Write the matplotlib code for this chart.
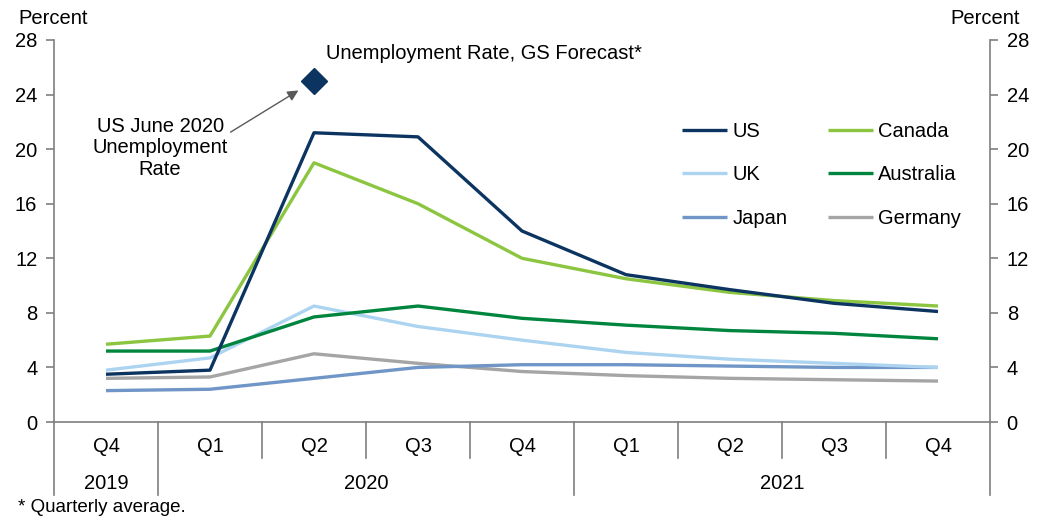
import numpy as np
import matplotlib
matplotlib.use("Agg")
import matplotlib.pyplot as plt
import matplotlib.transforms as mtransforms

plt.rcParams["font.family"] = ["Liberation Sans", "DejaVu Sans"]
plt.rcParams["font.size"] = 14.5

quarters = ["Q4", "Q1", "Q2", "Q3", "Q4", "Q1", "Q2", "Q3", "Q4"]
years = ["2019", "2020", "2021"]
year_spans = [(0, 0), (1, 4), (5, 8)]

us = [3.5, 3.8, 21.2, 20.9, 14.0, 10.8, 9.7, 8.7, 8.1]
canada = [5.7, 6.3, 19.0, 16.0, 12.0, 10.5, 9.5, 8.9, 8.5]
uk = [3.8, 4.7, 8.5, 7.0, 6.0, 5.1, 4.6, 4.3, 4.0]
australia = [5.2, 5.2, 7.7, 8.5, 7.6, 7.1, 6.7, 6.5, 6.1]
japan = [2.3, 2.4, 3.2, 4.0, 4.2, 4.2, 4.1, 4.0, 4.0]
germany = [3.2, 3.3, 5.0, 4.3, 3.7, 3.4, 3.2, 3.1, 3.0]

us_june_2020 = 25.0
us_june_idx = 2

axis_grey = "#7f7f7f"
fs = 14.5

fig = plt.figure(figsize=(10.44, 5.19), dpi=100)
ax = fig.add_axes([54 / 1044, 1 - 422 / 519, (990 - 54) / 1044, 382 / 519])
x = np.arange(len(quarters))

series = [
    ("US", us, "#0c3461"),
    ("UK", uk, "#acd4f0"),
    ("Japan", japan, "#6f96c6"),
    ("Canada", canada, "#8cc540"),
    ("Australia", australia, "#00853e"),
    ("Germany", germany, "#a5a5a5"),
]
# draw order: keep the dark lines on top
for name, vals, col in [series[5], series[2], series[1], series[4], series[3], series[0]]:
    ax.plot(x, vals, color=col, lw=2.4, solid_capstyle="butt", label=name)

ax.plot(us_june_idx, us_june_2020, marker="D", color="#0c3461", ms=13, ls="none")

ax.set_xlim(-0.5, len(quarters) - 0.5)
ax.set_ylim(0, 28)
ax.set_yticks(np.arange(0, 29, 4))
ax.set_xticks([])

ax.spines["top"].set_visible(False)
for s in ["left", "right", "bottom"]:
    ax.spines[s].set_color(axis_grey)
    ax.spines[s].set_linewidth(1.2)

ax.tick_params(axis="y", which="both", direction="out", length=6, width=1.2,
               color=axis_grey, labelsize=fs, pad=6,
               left=True, right=True, labelleft=True, labelright=True)

# category axis: quarter separators and year separators
trans = mtransforms.blended_transform_factory(ax.transData, ax.transAxes)
year_edges = [-0.5, 0.5, 4.5, 8.5]
for b in np.arange(-0.5, len(quarters), 1.0):
    low = -0.19 if b in year_edges else -0.094
    ax.plot([b, b], [0, low], transform=trans, color=axis_grey, lw=1.2, clip_on=False)
for i, q in enumerate(quarters):
    ax.text(i, -0.063, q, transform=trans, ha="center", va="center", fontsize=fs)
for yr, (a, b) in zip(years, year_spans):
    ax.text((a + b) / 2, -0.16, yr, transform=trans, ha="center", va="center", fontsize=fs)

fig.text(18 / 1044, 1 - 18 / 519, "Percent", ha="left", va="center", fontsize=fs)
fig.text(1020 / 1044, 1 - 18 / 519, "Percent", ha="right", va="center", fontsize=fs)
fig.text(18 / 1044, 1 - 507 / 519, "* Quarterly average.", ha="left", va="center", fontsize=13.5)

ax.text(2.12, 27.0, "Unemployment Rate, GS Forecast*", ha="left", va="center", fontsize=fs)
ax.annotate("US June 2020\nUnemployment\nRate", xy=(1.85, 24.3), xytext=(0.52, 20.1),
            ha="center", va="center", fontsize=fs, linespacing=1.18,
            arrowprops=dict(arrowstyle="-|>", color="#595959", lw=1.0,
                            mutation_scale=16, shrinkA=0, shrinkB=0,
                            relpos=(1.02, 0.75)))

handles, labels = ax.get_legend_handles_labels()
order = ["US", "UK", "Japan", "Canada", "Australia", "Germany"]
hmap = dict(zip(labels, handles))
ax.legend([hmap[k] for k in order], order, ncol=2, loc="upper left",
          bbox_to_anchor=(0.671, 0.786), frameon=False, fontsize=fs,
          handlelength=2.25, handletextpad=0.25, columnspacing=2.0,
          labelspacing=1.22, borderpad=0, borderaxespad=0)

fig.savefig("out.png", dpi=100)
